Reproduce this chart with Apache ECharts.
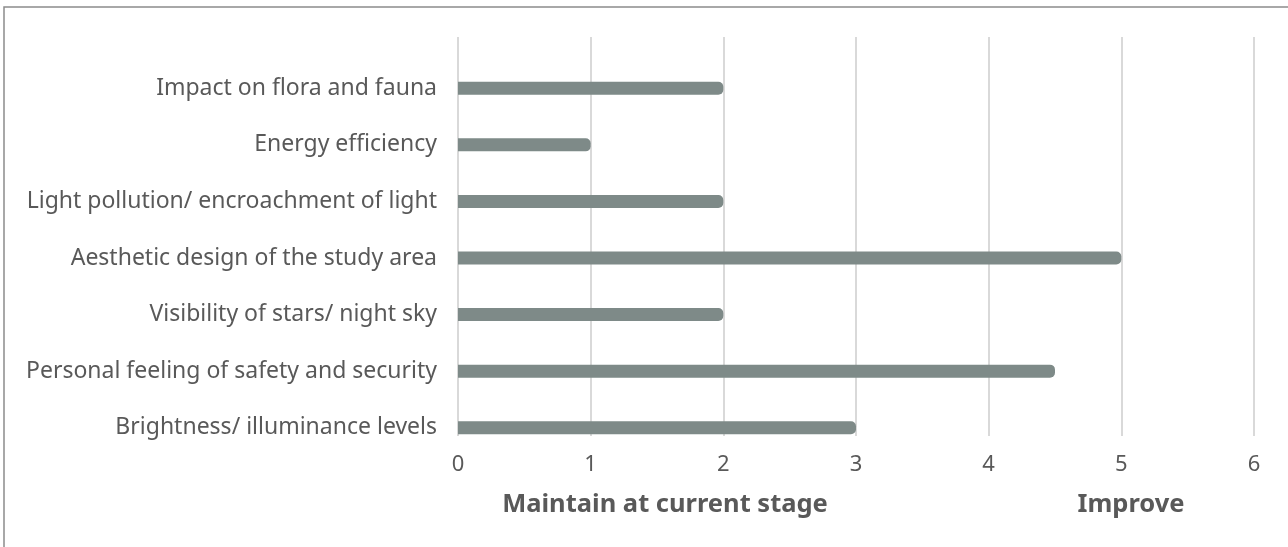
<!DOCTYPE html>
<html>
<head>
<meta charset="utf-8">
<script src="https://cdn.jsdelivr.net/npm/echarts@6/dist/echarts.min.js"></script>
<style>
  html, body { margin: 0; padding: 0; background: #fff; }
  #chart { width: 1288px; height: 547px; }
</style>
</head>
<body>
<div id="chart"></div>
<script>
// categories top -> bottom
const categories = [
  'Impact on flora and fauna',
  'Energy efficiency',
  'Light pollution/ encroachment of light',
  'Aesthetic design of the study area',
  'Visibility of stars/ night sky',
  'Personal feeling of safety and security',
  'Brightness/ illuminance levels'
]
const scores = [2, 1, 2, 5, 2, 4.5, 3]
const xTicks = { min: 0, max: 6, interval: 1 }
const bottomTitles = ['Maintain at current stage', 'Improve']

const TEXT = '#595959'
const GRID = '#d9d9d9'
const BAR = '#7e8a88'
const FONT = '"Noto Sans", sans-serif'

const chart = echarts.init(document.getElementById('chart'), null, { renderer: 'canvas' })

chart.setOption({
  animation: false,
  // grid 0 carries the bars + category labels, grid 1 the vertical gridlines + x labels
  grid: [
    { left: 458, right: 34, top: 60, bottom: 91 },
    { left: 458, right: 34, top: 37, bottom: 111 }
  ],
  xAxis: [
    { gridIndex: 0, type: 'value', ...xTicks, show: false, splitLine: { show: false } },
    {
      gridIndex: 1, type: 'value', ...xTicks,
      axisLine: { show: false }, axisTick: { show: false },
      splitLine: { lineStyle: { color: GRID, width: 2 } },
      axisLabel: { color: TEXT, fontFamily: FONT, fontSize: 22, margin: 18 }
    }
  ],
  yAxis: [
    {
      gridIndex: 0, type: 'category', data: categories, inverse: true,
      axisLine: { show: false }, axisTick: { show: false },
      axisLabel: { color: TEXT, fontFamily: FONT, fontSize: 23, margin: 21 }
    },
    { gridIndex: 1, type: 'category', data: categories, show: false }
  ],
  series: [{
    type: 'bar', xAxisIndex: 0, yAxisIndex: 0,
    data: scores, barWidth: 13,
    itemStyle: { color: BAR, borderRadius: [0, 5, 5, 0] }
  }],
  graphic: [
    { type: 'rect', shape: { x: 4, y: 7, width: 1300, height: 560 },
      style: { fill: 'none', stroke: '#8c8c8c', lineWidth: 1.5 }, silent: true },
    { type: 'text', x: 665, y: 505,
      style: { text: bottomTitles[0], fill: TEXT, font: `bold 25.5px ${FONT}`, align: 'center', verticalAlign: 'middle' } },
    { type: 'text', x: 1131, y: 505,
      style: { text: bottomTitles[1], fill: TEXT, font: `bold 25.5px ${FONT}`, align: 'center', verticalAlign: 'middle' } }
  ]
})
</script>
</body>
</html>
